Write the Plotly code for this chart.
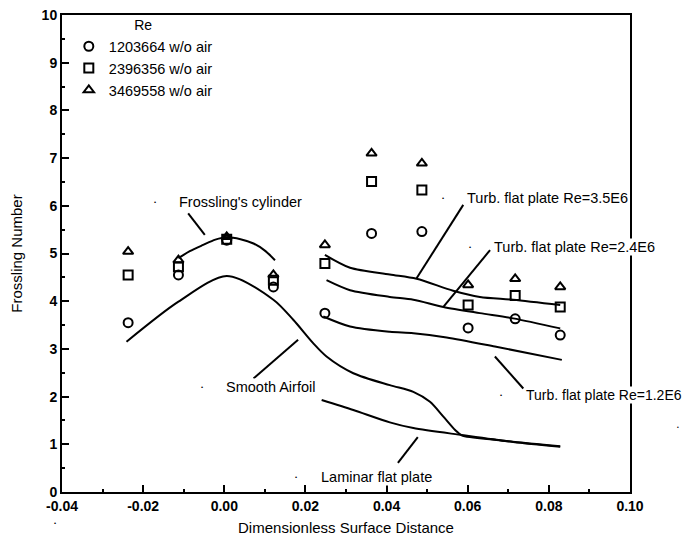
import plotly.graph_objects as go

# ---------------- data ----------------
x_pos = [-0.0237, -0.0113, 0.0006, 0.0121, 0.0248, 0.0363, 0.0487, 0.0601, 0.0717, 0.0828]
fr_1203664 = [3.55, 4.55, 5.28, 4.30, 3.75, 5.42, 5.46, 3.44, 3.63, 3.29]
fr_2396356 = [4.55, 4.72, 5.30, 4.44, 4.79, 6.51, 6.33, 3.92, 4.12, 3.88]
fr_3469558 = [5.04, 4.86, 5.35, 4.55, 5.18, 7.10, 6.89, 4.34, 4.47, 4.30]

cyl_x = [-0.0113, -0.0085, -0.0052, -0.0022, 0.0006, 0.0040, 0.0072, 0.0100, 0.0125]
cyl_y = [4.90, 5.05, 5.18, 5.29, 5.34, 5.30, 5.21, 5.06, 4.86]

air_x = [-0.0241, -0.0113, 0.0006, 0.0121, 0.0170, 0.0219, 0.0252, 0.0318, 0.0408,
         0.0466, 0.0507, 0.0540, 0.0569, 0.0585, 0.0671, 0.0828]
air_y = [3.15, 3.99, 4.53, 4.03, 3.61, 3.12, 2.84, 2.49, 2.24,
         2.10, 1.89, 1.58, 1.30, 1.19, 1.09, 0.96]

lam_x = [0.0240, 0.0318, 0.0408, 0.0466, 0.0589, 0.0712, 0.0828]
lam_y = [1.93, 1.72, 1.46, 1.34, 1.19, 1.05, 0.95]

t35_x = [0.0248, 0.0310, 0.0408, 0.0474, 0.0564, 0.0630, 0.0712, 0.0828]
t35_y = [4.97, 4.70, 4.56, 4.47, 4.22, 4.09, 4.03, 3.92]

t24_x = [0.0252, 0.0310, 0.0408, 0.0466, 0.0540, 0.0630, 0.0712, 0.0828]
t24_y = [4.44, 4.23, 4.09, 4.03, 3.88, 3.75, 3.64, 3.43]

t12_x = [0.0244, 0.0310, 0.0408, 0.0466, 0.0548, 0.0667, 0.0832]
t12_y = [3.68, 3.47, 3.36, 3.33, 3.24, 3.05, 2.77]

x_tickvals = [-0.04, -0.02, 0.00, 0.02, 0.04, 0.06, 0.08, 0.10]
x_ticktext = ["-0.04", "-0.02", "0.00", "0.02", "0.04", "0.06", "0.08", "0.10"]
y_tickvals = [0, 1, 2, 3, 4, 5, 6, 7, 8, 9, 10]

FONT = "Liberation Sans, Arial, sans-serif"

fig = go.Figure()

mk = dict(color="black", size=9, line=dict(color="black", width=2))
fig.add_trace(go.Scatter(x=x_pos, y=fr_1203664, mode="markers", name="1203664 w/o air",
                         marker=dict(symbol="circle-open", **mk)))
fig.add_trace(go.Scatter(x=x_pos, y=fr_2396356, mode="markers", name="2396356 w/o air",
                         marker=dict(symbol="square-open", **mk)))
fig.add_trace(go.Scatter(x=x_pos, y=fr_3469558, mode="markers", name="3469558 w/o air",
                         marker=dict(symbol="triangle-up-open", **mk)))

ln = dict(color="black", width=2, shape="spline", smoothing=0.8)
for cx, cy in [(cyl_x, cyl_y), (air_x, air_y), (lam_x, lam_y),
               (t35_x, t35_y), (t24_x, t24_y), (t12_x, t12_y)]:
    fig.add_trace(go.Scatter(x=cx, y=cy, mode="lines", line=ln, showlegend=False,
                             hoverinfo="skip"))

# leader lines
leaders = [
    (-0.0089, 5.84, -0.0048, 5.39),
    (0.0072, 2.38, 0.0182, 3.19),
    (0.0589, 6.02, 0.0474, 4.48),
    (0.0655, 5.07, 0.0540, 3.88),
    (0.0667, 2.84, 0.0737, 2.17),
    (0.0477, 1.15, 0.0428, 0.61),
]
for x0, y0, x1, y1 in leaders:
    fig.add_shape(type="line", x0=x0, y0=y0, x1=x1, y1=y1, xref="x", yref="y",
                  line=dict(color="black", width=2))

labels = [
    ("Frossling's cylinder", -0.0114, 6.08, -0.0171, 14.5),
    ("Smooth Airfoil", 0.0002, 2.21, -0.0054, 14.5),
    ("Turb. flat plate Re=3.5E6", 0.0596, 6.16, 0.0540, 14.5),
    ("Turb. flat plate Re=2.4E6", 0.0663, 5.14, 0.0606, 14.5),
    ("Turb. flat plate Re=1.2E6", 0.0741, 2.03, 0.0681, 14),
    ("Laminar flat plate", 0.0236, 0.31, 0.0177, 14.5),
]
for txt, tx, ty, dx, fs in labels:
    fig.add_annotation(x=tx, y=ty, xref="x", yref="y", text=txt, showarrow=False,
                       xanchor="left", yanchor="middle", bgcolor="white",
                       font=dict(family=FONT, size=fs, color="black"), borderpad=0)
    fig.add_annotation(x=dx, y=ty, xref="x", yref="y", text="•", showarrow=False,
                       xanchor="center", yanchor="middle",
                       font=dict(family=FONT, size=6, color="black"))

# stray specks from the scan
fig.add_annotation(x=1.09, y=0.125, xref="paper", yref="paper", text="•", showarrow=False,
                   font=dict(family=FONT, size=5, color="black"))
fig.add_annotation(x=-0.018, y=-0.075, xref="paper", yref="paper", text="•", showarrow=False,
                   font=dict(family=FONT, size=6, color="black"))

fig.update_layout(
    width=675, height=528,
    margin=dict(l=54, r=53, t=7, b=44, autoexpand=False),
    paper_bgcolor="white", plot_bgcolor="white",
    font=dict(family=FONT, color="black", size=14),
    showlegend=True,
    legend=dict(x=0.012, y=1.006, xanchor="left", yanchor="top", bgcolor="rgba(0,0,0,0)",
                font=dict(family=FONT, size=14.5, color="black"),
                title=dict(text="Re", side="top center", font=dict(family=FONT, size=14)),
                itemwidth=30, tracegroupgap=0),
    xaxis=dict(range=[-0.04, 0.10], tickvals=x_tickvals, ticktext=x_ticktext,
               automargin=False, ticklabeloverflow="allow",
               showgrid=False, zeroline=False, showline=True, linecolor="black",
               linewidth=2, mirror=True, ticks="inside", ticklen=7, tickwidth=2,
               tickcolor="black",
               tickfont=dict(family=FONT, size=14, color="black", weight="bold"),
               minor=dict(dtick=0.01, ticks="inside", ticklen=3, tickwidth=2,
                          tickcolor="black", showgrid=False),
               title=dict(text="Dimensionless Surface Distance",
                          font=dict(family=FONT, size=15), standoff=12)),
    yaxis=dict(range=[0, 10], tickvals=y_tickvals, automargin=False,
               ticklabeloverflow="allow",
               showgrid=False, zeroline=False, showline=True, linecolor="black",
               linewidth=2, mirror=True, ticks="inside", ticklen=7, tickwidth=2,
               tickcolor="black",
               tickfont=dict(family=FONT, size=14, color="black", weight="bold"),
               minor=dict(dtick=0.5, ticks="inside", ticklen=3, tickwidth=2,
                          tickcolor="black", showgrid=False),
               title=dict(text="Frossling Number",
                          font=dict(family=FONT, size=15), standoff=16)),
)

fig.write_html("out.html")
